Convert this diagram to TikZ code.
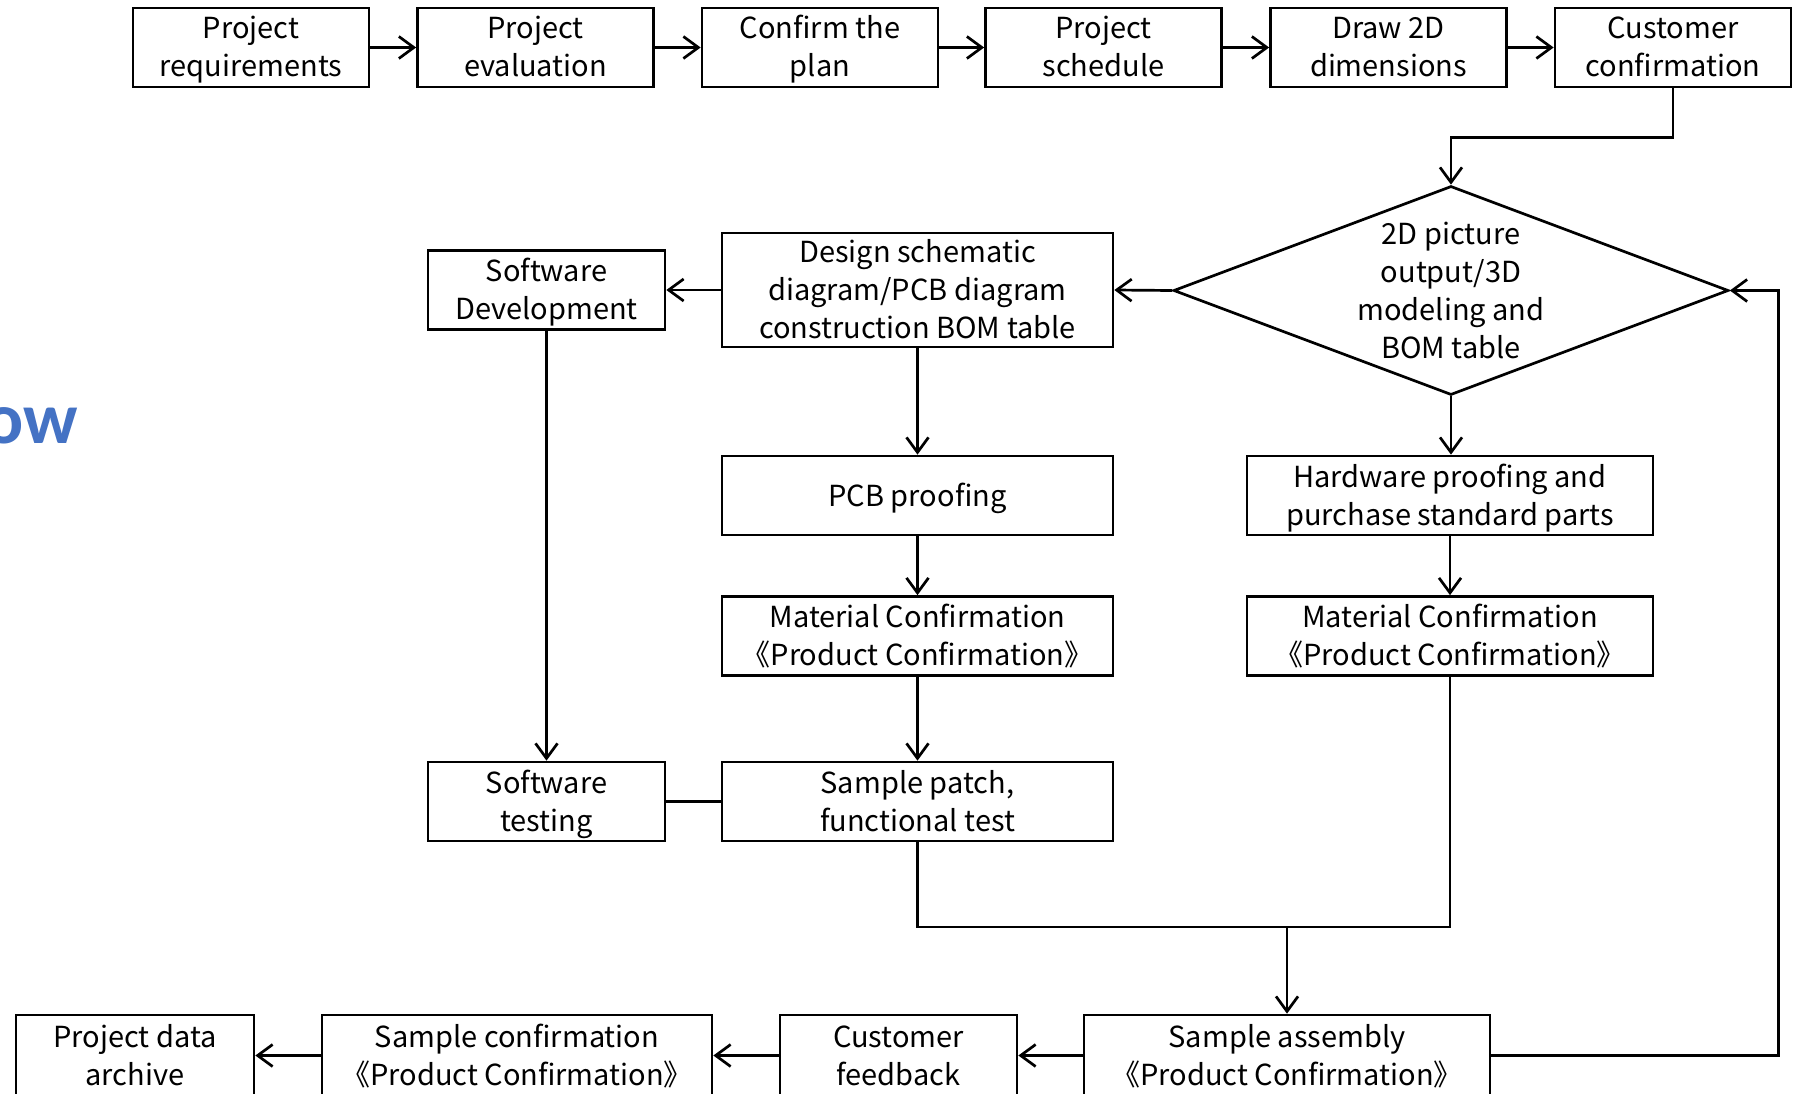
\documentclass[tikz,border=0pt]{standalone}
\usepackage{fontspec}
\setmainfont{Noto Sans CJK SC}
\newfontfamily\titlefont{Carlito}
\usetikzlibrary{arrows.meta,shapes.geometric}
\definecolor{titleblue}{RGB}{68,114,196}
% line strut: fixes the height of the first and the depth of the last line
\newcommand\ls{\rule[-8pt]{0pt}{37pt}}
\newcommand\bt[1]{\ls#1\ls}
\tikzset{
  lw/.style={line width=2.7pt},
  txt/.style={align=center, inner sep=0pt, font=\fontsize{29}{38}\selectfont},
  box/.style={draw, lw, txt, minimum height=79pt},
  nbox/.style={box, minimum width=236pt},
  wbox/.style={box, minimum width=391pt},
  hbox/.style={box, minimum width=406pt},
  arr/.style={lw, -{Straight Barb[length=15pt,width=22pt]}},
  conn/.style={lw}
}
\begin{document}
\begin{tikzpicture}[x=1pt,y=-1pt]
\fill[white] (0,0) rectangle (1801,1094);
\useasboundingbox (0,0) rectangle (1801,1094);
% title fragment
\node[anchor=base west, inner sep=0pt, text=titleblue, font=\titlefont\bfseries\fontsize{73}{80}\selectfont] (title) at (-16,443) {ow};
% top row
\node[nbox] (b1) at (251,47.5) {\bt{Project\\requirements}};
\node[nbox] (b2) at (535.5,47.5) {\bt{Project\\evaluation}};
\node[nbox] (b3) at (820,47.5) {\bt{Confirm the\\plan}};
\node[nbox] (b4) at (1103.5,47.5) {\bt{Project\\schedule}};
\node[nbox] (b5) at (1388.5,47.5) {\bt{Draw 2D\\dimensions}};
\node[nbox] (b6) at (1673,47.5) {\bt{Customer\\confirmation}};
% decision
\node[diamond, draw, lw, minimum width=555pt, minimum height=209pt, inner sep=0pt] (dia) at (1451,290.5) {};
\node[txt] (diatext) at (dia.center) {\bt{2D picture\\output/3D\\modeling and\\BOM table}};
% middle
\node[wbox, minimum height=114pt] (ds) at (917.5,290) {\bt{Design schematic\\diagram/PCB diagram\\construction BOM table}};
\node[nbox, minimum width=237pt] (sd) at (546.5,290) {\bt{Software\\Development}};
\node[wbox] (pcb) at (917.5,495.5) {\bt{PCB proofing}};
\node[wbox] (ml) at (917.5,636) {\bt{Material Confirmation\\《Product Confirmation》}};
\node[wbox] (sp) at (917.5,801.5) {\bt{Sample patch,\\functional test}};
\node[nbox, minimum width=237pt] (st) at (546.5,801.5) {\bt{Software\\testing}};
\node[hbox] (hw) at (1450,495.5) {\bt{Hardware proofing and\\purchase standard parts}};
\node[hbox] (mr) at (1450,636) {\bt{Material Confirmation\\《Product Confirmation》}};
% bottom row
\node[hbox, minimum height=81pt] (sa) at (1287,1055.5) {\bt{Sample assembly\\《Product Confirmation》}};
\node[nbox, minimum width=237pt, minimum height=81pt] (cf) at (898.5,1055.5) {\bt{Customer\\feedback}};
\node[wbox, minimum width=390pt, minimum height=81pt] (sc) at (517,1055.5) {\bt{Sample confirmation\\《Product Confirmation》}};
\node[nbox, minimum width=238pt, minimum height=81pt] (pa) at (135,1055.5) {\bt{Project data\\archive}};
\coordinate (mj) at (1287,927);
% connectors
\draw[arr] (b1) -- (b2);
\draw[arr] (b2) -- (b3);
\draw[arr] (b3) -- (b4);
\draw[arr] (b4) -- (b5);
\draw[arr] (b5) -- (b6);
\draw[arr] (b6.south) -- ++(0,49) -| (dia.north);
\draw[arr] (dia.west) -- (ds.east);
\draw[arr] (ds.west) -- (sd.east);
\draw[arr] (sd.south) -- (st.north);
\draw[arr] (ds.south) -- (pcb.north);
\draw[arr] (pcb.south) -- (ml.north);
\draw[arr] (ml.south) -- (sp.north);
\draw[conn] (st.east) -- (sp.west);
\draw[arr] (dia.south) -- (hw.north -| dia.south);
\draw[arr] (hw.south) -- (mr.north);
\draw[conn] (sp.south) |- (mj) -| (mr.south);
\draw[arr] (mj) -- (sa.north);
\draw[arr] (sa.east) -- ++(287,0) |- (dia.east);
\draw[arr] (sa.west) -- (cf.east);
\draw[arr] (cf.west) -- (sc.east);
\draw[arr] (sc.west) -- (pa.east);
\end{tikzpicture}
\end{document}
